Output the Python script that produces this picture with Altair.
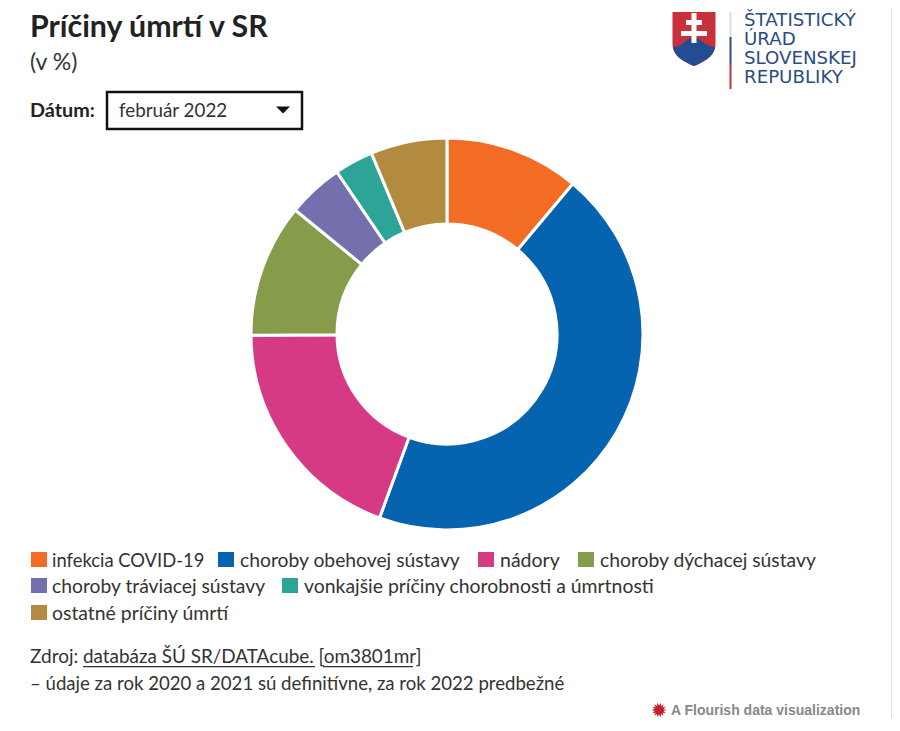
import math
import altair as alt
import pandas as pd

causes = ["infekcia COVID-19", "choroby obehovej sústavy", "nádory", "choroby dýchacej sústavy",
          "choroby tráviacej sústavy", "vonkajšie príčiny chorobnosti a úmrtnosti", "ostatné príčiny úmrtí"]
shares = [11.1, 44.5, 19.3, 11.0, 4.6, 3.2, 6.3]
colors = ["#f26c23", "#0563b0", "#d63a84", "#869c4b", "#7470ae", "#2ca598", "#b38b40"]
order_idx = list(range(len(causes)))

title_text = "Príčiny úmrtí v SR"
subtitle_text = "(v %)"
filter_label = "Dátum:"
filter_value = "február 2022"
source_prefix = "Zdroj: "
source_link = "databáza ŠÚ SR/DATAcube. [om3801mr]"
source_note = "– údaje za rok 2020 a 2021 sú definitívne, za rok 2022 predbežné"
credit = "A Flourish data visualization"
logo_lines = ["ŠTATISTICKÝ", "ÚRAD", "SLOVENSKEJ", "REPUBLIKY"]

FONT = "Lato"
INK = "#333333"
NAVY = "#2b4c7e"
OFF = 8  # page margin


def text(s, x, y, size=20, color=INK, weight="normal", font=FONT):
    return alt.Chart(pd.DataFrame({"t": [s]})).mark_text(
        align="left", baseline="alphabetic", fontSize=size, color=color, fontWeight=weight, font=font
    ).encode(x=alt.value(x - OFF), y=alt.value(y - OFF), text="t:N")


def rect(x, x2, y, y2, fill=None, stroke=None, sw=0):
    kw = {}
    kw["fill"] = fill if fill else "transparent"
    if stroke:
        kw["stroke"] = stroke
        kw["strokeWidth"] = sw
    return alt.Chart(pd.DataFrame({"a": [0]})).mark_rect(**kw).encode(
        x=alt.value(x - OFF), x2=alt.value(x2 - OFF), y=alt.value(y - OFF), y2=alt.value(y2 - OFF))


def shape(path, x, y, fill):
    # size 4 makes one path unit equal to one pixel
    return alt.Chart(pd.DataFrame({"a": [0]})).mark_point(
        shape=path, filled=True, fill=fill, opacity=1, strokeWidth=0, size=4
    ).encode(x=alt.value(x - OFF), y=alt.value(y - OFF))


df = pd.DataFrame({"cause": causes, "share": shares, "idx": order_idx})
donut = alt.Chart(df).mark_arc(radius=196, radius2=110, stroke="white", strokeWidth=3).encode(
    theta=alt.Theta("share:Q", stack=True),
    order=alt.Order("idx:Q"),
    color=alt.Color("cause:N", scale=alt.Scale(domain=causes, range=colors), legend=None),
    x=alt.value(447 - OFF),
    y=alt.value(334 - OFF),
)

layers = [donut]
layers += [text(title_text, 30, 37, 30.3, "#222222", "bold"),
           text(subtitle_text, 30, 70, 23),
           text(filter_label, 30, 117, 19.8, "#222222", "bold"),
           rect(107, 302, 92, 129, stroke="#111111", sw=2.5),
           text(filter_value, 119, 117, 18.8),
           shape("M-7,-3.5 L7,-3.5 L0,3.5 Z", 283, 110, "#111111")]

# legend rows
legend_rows = [
    (567, [(31, 52, 0), (218, 240, 1), (478, 500, 2), (578, 600, 3)]),
    (593, [(31, 52, 4), (282, 304, 5)]),
    (620, [(31, 52, 6)]),
]
legend_sizes = [18.4, 19.3, 19.5, 19.3, 19.3, 19.4, 19.4]
for base, items in legend_rows:
    for sx, tx, i in items:
        layers.append(rect(sx, sx + 16, base - 15, base, fill=colors[i]))
        layers.append(text(causes[i], tx, base, legend_sizes[i]))

layers += [text(source_prefix, 30, 663, 19),
           text(source_link, 83, 663, 18.9),
           rect(83, 315, 666, 667.2, fill=INK),
           rect(323, 413, 666, 667.2, fill=INK),
           text(source_note, 30, 690, 18.6)]

# Flourish credit
spikes = []
for k in range(28):
    a = 2 * math.pi * k / 28
    r = 7.5 if k % 2 == 0 else 4.5
    spikes.append(f"{r * math.cos(a):.2f},{r * math.sin(a):.2f}")
sun = "M" + " L".join(spikes) + " Z"
layers += [shape(sun, 659, 710, "#c8202a"),
           text(credit, 671, 715, 14, "#888888", "bold", "Liberation Sans")]

# logo
layers += [
    shape("M-21.5,-26 L21.5,-26 L21.5,6 C21.5,18 10,24 0,28 C-10,24 -21.5,18 -21.5,6 Z", 694, 38, "#c8303c"),
    shape("M-21,9 C-17,9 -14,8 -11,5 C-8,2 -5,1 -3,0 C0,-3 3,0 5,1 C8,3 12,8 21,9 C20,18 10,24 0,28 C-10,24 -20,18 -21,9 Z",
          694, 38, "#234c92"),
    shape("M-2.5,-25 L2.5,-25 L2.5,-18 L8,-18 L8,-13 L2.5,-13 L2.5,-7 L13,-7 L13,-2 L2.5,-2 L2.5,5 L-2.5,5 "
          "L-2.5,-2 L-13,-2 L-13,-7 L-2.5,-7 L-2.5,-13 L-8,-13 L-8,-18 L-2.5,-18 Z", 694, 38, "white"),
    rect(729.5, 731.5, 12, 37, fill="#dddddd"),
    rect(729.5, 731.5, 37, 65, fill="#2b4c7e"),
    rect(729.5, 731.5, 65, 89, fill="#c8303c"),
]
for line, base in zip(logo_lines, [26, 45, 64, 83]):
    layers.append(text(line, 744, base, 18.2, NAVY, "normal", "DejaVu Sans"))

# right page edge
layers.append(rect(891, 892, 0, 718, fill="#e4e4e4"))

chart = alt.layer(*layers).properties(
    width=884, height=710, padding=0, background="white",
    autosize=alt.AutoSizeParams(type="none"),
).configure_view(stroke=None)

chart.save("out.html", embed_options={"renderer": "svg", "actions": False})
